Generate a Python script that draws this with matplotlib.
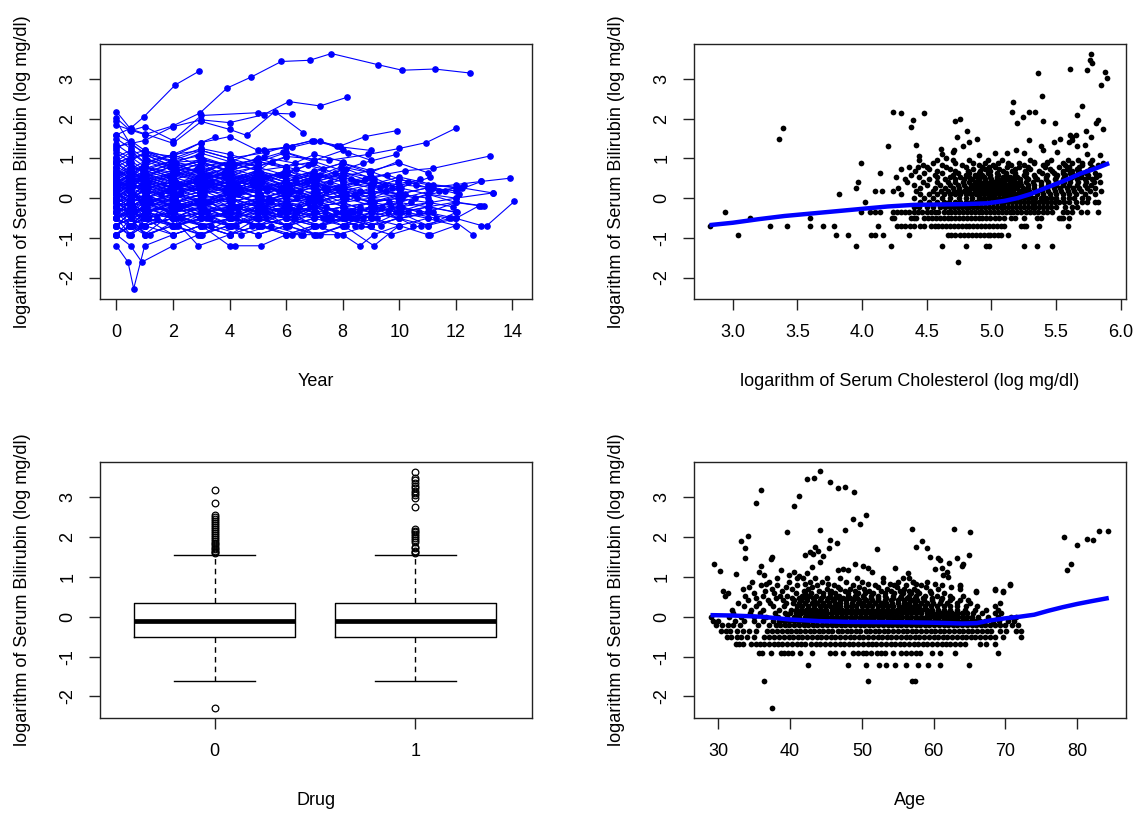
import numpy as np
import matplotlib
matplotlib.use("Agg")
import matplotlib.pyplot as plt

plt.rcParams['font.family'] = ['Liberation Sans', 'DejaVu Sans']
plt.rcParams['axes.unicode_minus'] = False

ylab = "logarithm of Serum Bilirubin (log mg/dl)"

# ---- panel 1: individual profiles (year, log bilirubin) ----
trajectories = [
    [(0, -0.11), (0.5, -0.22), (1.0, -0.36), (2.0, -0.22), (3.0, -0.11), (4.1, 0.0), (5.0, -0.22), (6.0, -0.11), (7.1, 0.1), (8.0, -0.22), (9.0, -0.36), (10.1, -0.22)],
    [(0, 0.34), (0.52, 0.18), (1.03, 0.41), (2.05, 0.26), (3.02, 0.47), (4.03, 0.34), (5.1, 0.53)],
    [(0, -0.51), (0.46, -0.69), (0.97, -0.51), (1.96, -0.36), (2.94, -0.51), (3.95, -0.69), (4.97, -0.51), (6.1, -0.69), (7.0, -0.51), (8.1, -0.36), (9.0, -0.51), (10.0, -0.36), (11.0, -0.51)],
    [(0, 0.59), (0.5, 0.79), (1.0, 0.64), (2.1, 0.88), (3.0, 0.59)],
    [(0, 0.0), (0.55, 0.1), (1.06, -0.11), (2.08, 0.0), (3.1, 0.18), (4.07, 0.1), (5.05, 0.26), (6.03, 0.18), (7.04, 0.34), (8.05, 0.26), (9.1, 0.41), (10.0, 0.34), (11.2, 0.26), (12.1, 0.1)],
    [(0, -0.92), (0.5, -0.69), (1.0, -0.92), (2.0, -0.69), (3.0, -0.51), (4.0, -0.69), (5.0, -0.92), (6.0, -0.69)],
    [(0, 0.88), (0.44, 0.64), (0.95, 0.79), (1.93, 0.53), (2.96, 0.69), (4.1, 0.92), (5.0, 0.79), (6.0, 1.03)],
    [(0, -0.22), (0.5, -0.36), (1.0, -0.22), (2.0, -0.51), (3.0, -0.36), (4.0, -0.22), (5.0, -0.36), (6.0, -0.51), (7.0, -0.36), (8.0, -0.22), (9.0, -0.11), (10.0, -0.22), (11.1, -0.11), (12.0, 0.0), (13.3, 0.13)],
    [(0, 0.18), (0.57, 0.34), (1.08, 0.26), (2.1, 0.41), (3.06, 0.18), (4.05, 0.34), (5.08, 0.1), (6.06, 0.26), (7.08, 0.0), (8.02, 0.18), (9.04, 0.1)],
    [(0, -0.69), (0.5, -0.51), (1.0, -0.69), (2.0, -0.92), (3.0, -0.69), (4.0, -0.51), (5.1, -0.69), (6.0, -0.92), (7.0, -0.69), (8.0, -0.92), (8.6, -1.2), (9.1, -0.92), (10.0, -0.69), (11.0, -0.92), (11.1, -0.92), (12.0, -0.69)],
    [(0, 0.47), (0.48, 0.26), (0.99, 0.53), (1.98, 0.34), (2.97, 0.59), (3.98, 0.47), (4.96, 0.69), (5.97, 0.53), (6.95, 0.64)],
    [(0, -0.36), (0.5, -0.11), (1.0, -0.36), (2.0, -0.22), (3.0, -0.51), (4.0, -0.36), (5.0, -0.11), (6.0, -0.22), (7.0, -0.51), (8.0, -0.36), (9.0, -0.69), (10.0, -0.51), (10.5, -0.69)],
    [(0, 1.13), (0.5, 0.92), (1.0, 1.16), (2.0, 0.88), (3.0, 1.13), (4.0, 0.92)],
    [(0, 0.1), (0.53, -0.11), (1.04, 0.1), (2.06, -0.22), (3.04, 0.0), (4.02, -0.11), (5.03, 0.1), (6.04, -0.11), (7.05, 0.0), (8.0, 0.18), (9.0, 0.0), (10.0, 0.1), (11.0, 0.26), (12.0, 0.18), (12.9, 0.42), (13.9, 0.5)],
    [(0, -0.11), (0.5, 0.0), (1.0, 0.18), (2.0, 0.1), (3.0, 0.26), (4.0, 0.41), (5.0, 0.34), (6.0, 0.59), (7.0, 0.47), (8.0, 0.64), (9.0, 0.53), (10.2, 0.69), (11.2, 0.75), (13.2, 1.06)],
    [(0, -0.51), (0.5, -0.36), (1.0, -0.51), (2.0, -0.69), (3.0, -0.36), (4.0, -0.51), (5.0, -0.36), (6.0, -0.51), (7.0, -0.69), (8.1, -0.51), (9.0, -0.69), (10.0, -0.51), (11.0, -0.36), (12.0, -0.51), (12.9, -0.69), (13.1, -0.69), (14.07, -0.08)],
    [(0, 0.26), (0.45, 0.41), (0.96, 0.18), (1.95, 0.47), (2.93, 0.26), (3.94, 0.18), (4.95, 0.34), (5.94, 0.1), (6.97, 0.26), (7.96, 0.1)],
    [(0, -0.22), (0.5, -0.11), (1.0, -0.22), (2.0, -0.11), (3.0, 0.0), (4.0, -0.22), (5.0, 0.0), (6.0, -0.11), (7.0, 0.1), (8.0, 0.0), (9.0, 0.18), (10.0, 0.1), (11.0, 0.26), (12.0, 0.34), (12.9, 0.42)],
    [(0, 0.69), (0.5, 0.53), (1.0, 0.79), (2.0, 0.64), (3.0, 0.88), (4.0, 0.69), (5.0, 0.92), (6.0, 0.79), (7.0, 1.1), (8.0, 0.92)],
    [(0, -0.92), (0.5, -1.2), (0.9, -1.61), (2.0, -1.2), (2.9, -0.92), (4.0, -0.69), (5.0, -0.92), (6.0, -0.69)],
    [(0, -1.2), (0.41, -1.61), (0.61, -2.28), (1.0, -1.2), (2.0, -0.92), (3.0, -0.69), (4.0, -0.92)],
    [(0, 0.0), (0.5, -0.22), (1.0, 0.0), (2.0, -0.11), (3.0, -0.36), (4.0, -0.22), (5.0, -0.11), (6.0, -0.36), (7.0, -0.22), (8.0, -0.36), (9.0, -0.22), (10.0, -0.11)],
    [(0, 0.41), (0.5, 0.59), (1.0, 0.47), (2.0, 0.26), (3.0, 0.41), (4.0, 0.53), (5.0, 0.41)],
    [(0, -0.36), (0.5, -0.51), (1.0, -0.69), (2.0, -0.51), (2.9, -1.2), (4.0, -0.92), (5.0, -0.69), (6.0, -0.51), (7.0, -0.69)],
    [(0, 1.84), (0.48, 1.72), (1.0, 1.6), (2.0, 1.82), (2.95, 2.14), (3.91, 2.77), (4.77, 3.05), (5.83, 3.44), (6.83, 3.47), (7.6, 3.64), (9.24, 3.36), (10.1, 3.22), (11.25, 3.25), (12.49, 3.15)],
    [(0, 1.59), (0.5, 1.76), (0.96, 2.04), (2.08, 2.85), (2.91, 3.19)],
    [(0, 1.3), (1.0, 1.45), (2.0, 1.8), (3.0, 1.97), (4.0, 1.9), (5.2, 2.1), (6.1, 2.43), (7.2, 2.32), (8.16, 2.54)],
    [(0, 2.01), (0.5, 1.7), (1.0, 1.8), (2.0, 1.45), (3.0, 2.08), (5.0, 2.15), (6.2, 2.12)],
    [(0, 2.18), (0.5, 1.74), (1.0, 1.62), (2.0, 1.38), (3.0, 1.93), (4.0, 1.73), (4.6, 1.58), (5.6, 2.18), (6.6, 1.65)],
    [(0, 0.9), (1.0, 1.1), (2.0, 0.95), (3.0, 1.2), (4.0, 1.0), (5.0, 0.8), (6.0, 1.05), (7.5, 0.95), (8.9, 1.1), (10.0, 1.25), (10.96, 1.4), (12.0, 1.76)],
    [(0, 0.6), (1.0, 0.8), (2.0, 1.1), (3.0, 1.2), (4.0, 1.0), (5.3, 1.15), (6.0, 1.3), (7.0, 1.45), (7.9, 1.31), (8.8, 1.55), (9.92, 1.7)],
    [(0, 1.04), (0.5, 1.2), (1.0, 0.9), (2.0, 1.1), (3.0, 1.4), (4.0, 1.55), (5.0, 1.2), (6.0, 1.28), (6.9, 1.45), (7.8, 1.3), (9.0, 1.2)],
    [(0, 0.53), (0.5, 0.34), (1.0, 0.59), (2.0, 0.41), (3.1, 0.26), (4.0, 0.47), (5.0, 0.26), (6.0, 0.41), (7.1, 0.18), (8.0, 0.34)],
    [(0, -0.69), (0.5, -0.92), (1.0, -0.69), (2.0, -0.51), (3.0, -0.69), (4.0, -1.2), (4.2, -1.2), (5.1, -1.2), (6.0, -0.92), (7.0, -0.69)],
    [(0, 0.79), (0.55, 0.59), (1.05, 0.92), (2.04, 0.69), (3.03, 0.47), (4.04, 0.64), (5.02, 0.41)],
    [(0, -0.11), (0.47, -0.36), (0.98, -0.22), (1.97, 0.0), (2.96, -0.22), (3.97, 0.0), (4.98, -0.22), (5.96, -0.36), (6.98, -0.11), (7.97, -0.36), (8.98, -0.11), (9.97, 0.0), (11.0, -0.11)],
    [(0, 0.26), (0.5, 0.0), (1.0, 0.34), (2.0, 0.1), (3.0, 0.34), (4.0, 0.18), (5.0, 0.47), (6.0, 0.26), (7.0, 0.41), (8.0, 0.59), (9.0, 0.34)],
    [(0, -0.36), (0.54, -0.22), (1.05, -0.51), (2.04, -0.36), (3.05, -0.22), (4.06, -0.36), (5.04, -0.51), (6.05, -0.22), (7.06, -0.36), (8.04, -0.51), (9.05, -0.36), (10.05, -0.22)],
    [(0, 0.0), (0.5, 0.26), (1.0, 0.1), (2.0, 0.34), (3.0, 0.1), (4.0, 0.26), (5.0, 0.0), (6.1, 0.18), (7.0, -0.11)],
    [(0, 1.2), (0.5, 1.0), (1.0, 1.1), (2.0, 0.79), (3.0, 0.92), (4.0, 0.69), (5.0, 0.88)],
    [(0, -0.51), (0.5, -0.22), (1.0, -0.36), (2.0, -0.11), (3.0, -0.36), (4.0, -0.22), (5.0, -0.36), (6.0, -0.11), (7.0, -0.22), (8.0, -0.11), (9.0, 0.0), (10.0, -0.11), (11.0, -0.22), (12.0, -0.36)],
    [(0, 0.41), (0.46, 0.53), (0.97, 0.26), (1.96, 0.53), (2.95, 0.34), (3.96, 0.59), (4.94, 0.41), (5.95, 0.69), (6.96, 0.53), (7.95, 0.79), (8.96, 0.64), (9.95, 0.92)],
    [(0, -0.22), (0.5, 0.0), (1.0, -0.11), (2.0, 0.1), (3.0, -0.11), (4.0, 0.1), (5.0, -0.11), (6.0, 0.1), (7.0, 0.0), (8.0, 0.26), (9.0, 0.1), (10.0, 0.26), (11.0, 0.1), (12.0, 0.0)],
    [(0, 0.64), (0.5, 0.41), (1.0, 0.59), (2.0, 0.79), (3.0, 0.53), (4.0, 0.79)],
    [(0, -0.92), (0.52, -0.51), (1.02, -0.92), (2.03, -0.69), (3.03, -0.92), (4.04, -0.51), (5.04, -0.69), (6.04, -0.51), (7.03, -0.92), (8.03, -0.69), (9.1, -1.2), (10.0, -0.69)],
    [(0, 0.1), (0.5, 0.18), (1.0, 0.0), (2.0, 0.26), (3.0, 0.0), (4.0, 0.1), (5.0, 0.26), (6.0, 0.0), (7.0, 0.18), (8.0, -0.11), (9.0, 0.18), (10.1, 0.0), (11.1, 0.18), (12.2, 0.26), (13.3, 0.13)],
    [(0, 0.34), (0.5, 0.47), (1.0, 0.69), (2.0, 0.47), (3.0, 0.64), (4.0, 0.88), (5.0, 0.69), (6.0, 0.79), (7.0, 0.59)],
    [(0, -0.36), (0.5, -0.69), (1.0, -0.51), (2.0, -0.92), (3.0, -0.69), (4.0, -0.92), (5.0, -0.69), (6.0, -0.92), (6.6, -0.92), (7.2, -0.92), (8.0, -0.69)],
    [(0, 0.92), (0.5, 1.16), (1.0, 0.88), (2.0, 1.1), (3.0, 0.79), (4.0, 0.92), (5.2, 1.2), (6.2, 1.28), (7.2, 1.45), (8.2, 1.13)],
    [(0, -0.11), (0.56, 0.1), (1.07, -0.22), (2.07, 0.0), (3.08, 0.18), (4.08, -0.11), (5.07, 0.1), (6.08, -0.22), (7.07, 0.0), (8.06, -0.22), (9.07, -0.11)],
    [(0, 0.18), (0.5, -0.11), (1.0, 0.26), (2.0, -0.11), (3.0, 0.1), (4.0, 0.34), (5.0, 0.18), (6.0, 0.41), (7.0, 0.26), (8.0, 0.47)],
    [(0, -0.69), (0.5, -0.36), (1.0, -0.51), (2.0, -0.22), (3.0, -0.51), (4.0, -0.36), (5.0, -0.69), (6.0, -0.36), (7.0, -0.51), (8.0, -0.69), (9.0, -0.36), (10.0, -0.51), (11.2, -0.36)],
    [(0, 0.59), (0.44, 0.88), (0.94, 0.69), (1.94, 0.92), (2.92, 0.79), (3.93, 0.53), (4.93, 0.79), (5.93, 0.59), (6.94, 0.88), (7.93, 0.53), (8.94, 0.69), (9.94, 0.41)],
    [(0, 0.0), (0.5, -0.22), (1.0, -0.36), (2.0, -0.11), (3.0, -0.22), (4.0, 0.0), (5.0, -0.36), (6.0, -0.11), (7.0, -0.36), (8.0, -0.22)],
    [(0, 1.35), (0.5, 1.1), (1.0, 1.2), (2.0, 0.9), (3.0, 0.95), (4.0, 0.8), (5.0, 0.92), (6.0, 0.75)],
    [(0, -0.22), (0.5, -0.51), (1.0, -0.36), (2.0, -0.69), (3.0, -0.51), (4.0, -0.36), (5.0, -0.51), (6.0, -0.69), (7.0, -0.51), (8.0, -0.36), (9.0, -0.51), (10.0, -0.69), (11.0, -0.51), (12.0, -0.69)],
    [(0, 0.47), (0.5, 0.18), (1.0, 0.41), (2.0, 0.18), (3.0, 0.47), (4.0, 0.26), (5.0, 0.53), (6.0, 0.34), (7.0, 0.64), (8.0, 0.41), (9.0, 0.26), (10.0, 0.47), (11.0, 0.34), (12.0, 0.26)],
    [(0, -0.51), (0.5, -0.92), (1.0, -0.69), (2.0, -0.51), (3.0, -0.92), (4.0, -0.69)],
    [(0, 0.26), (0.53, 0.53), (1.03, 0.34), (2.02, 0.59), (3.01, 0.41), (4.02, 0.69), (5.01, 0.47), (6.02, 0.64), (7.02, 0.34), (8.01, 0.53), (9.02, 0.34), (10.02, 0.18)],
    [(0, -0.11), (0.5, 0.0), (1.0, -0.11), (2.0, -0.22), (3.0, -0.11), (4.0, -0.22), (5.0, -0.11), (6.0, 0.0), (7.0, -0.22), (8.0, -0.11), (9.0, -0.36), (10.0, -0.22), (11.0, -0.36), (12.0, -0.11), (12.9, -0.2)],
    [(0, 0.69), (0.5, 0.47), (1.0, 0.53), (2.0, 0.34), (3.0, 0.53), (4.0, 0.34), (5.0, 0.59), (6.0, 0.41), (7.0, 0.59), (8.0, 0.41), (9.0, 0.53)],
    [(0, -0.36), (0.49, -0.11), (0.99, 0.0), (1.99, -0.22), (2.99, -0.11), (3.99, 0.1), (4.99, -0.11), (5.99, 0.0), (6.99, -0.11), (7.99, 0.1), (8.99, -0.11), (9.99, 0.0)],
    [(0, 0.1), (0.5, 0.34), (1.0, 0.18), (2.0, 0.0), (3.0, 0.26), (4.0, 0.0), (5.0, 0.18), (6.0, 0.34), (7.0, 0.1)],
    [(0, -0.92), (0.5, -0.69), (1.0, -0.36), (2.0, -0.69), (3.0, -0.51), (4.0, -0.69), (5.0, -0.51), (6.0, -0.69), (7.0, -0.92), (7.8, -0.92), (9.0, -0.69)],
    [(0, 0.34), (0.5, 0.1), (1.0, 0.0), (2.0, 0.18), (3.0, 0.34), (4.0, 0.1), (5.0, 0.34), (6.0, 0.18), (7.0, 0.41), (8.0, 0.18), (9.0, 0.34), (10.0, 0.53), (11.2, 0.34), (12.1, 0.26)],
    [(0, 0.0), (0.5, 0.18), (1.0, 0.41), (2.0, 0.18), (3.0, 0.59), (4.0, 0.34), (5.0, 0.69), (5.5, 0.92)],
    [(0, -0.22), (0.5, -0.36), (1.0, -0.11), (2.0, -0.36), (3.0, -0.69), (4.0, -0.51), (5.0, -0.22), (6.0, -0.51), (7.0, -0.22), (8.0, -0.51), (9.0, -0.22), (10.0, -0.36), (11.0, -0.22), (12.0, -0.1), (13.0, -0.2)],
    [(0, 0.53), (0.5, 0.69), (1.0, 0.47), (2.0, 0.64), (3.0, 0.88), (4.0, 0.47), (5.0, 0.59)],
    [(0, -0.51), (0.55, -0.36), (1.06, -0.22), (2.05, -0.36), (3.06, -0.22), (4.05, -0.51), (5.06, -0.22), (6.05, -0.36), (7.06, -0.69), (8.05, -0.51)],
    [(0, 0.18), (0.5, 0.41), (1.0, 0.59), (2.0, 0.26), (3.0, 0.18), (4.0, 0.53), (5.0, 0.34), (6.0, 0.1), (7.0, 0.34), (8.0, 0.0), (9.0, 0.26), (10.0, 0.1), (11.0, 0.0)],
    [(0, 0.88), (0.5, 1.04), (1.0, 0.79), (2.0, 0.59), (3.0, 0.79), (4.0, 0.59), (5.0, 0.47), (6.0, 0.69)],
    [(0, -0.69), (0.5, -0.51), (1.0, -0.92), (2.0, -0.36), (3.0, -0.69), (4.0, -0.92), (5.0, -0.51), (6.0, -0.36)],
    [(0, 1.6), (0.5, 1.4), (1.0, 1.1), (2.0, 0.8), (3.0, 0.65), (4.0, 0.9), (5.0, 0.7)],
    [(0, 1.93), (0.5, 1.35), (1.0, 1.15), (2.0, 1.05), (3.0, 1.4), (3.5, 1.55)],
    [(0, -0.36), (0.5, -0.22), (1.0, -0.69), (2.0, -0.51), (3.0, -0.36), (4.0, -0.69), (5.0, -0.36), (6.0, -0.22), (7.0, -0.36), (8.0, -0.69), (9.0, -0.36), (10.0, -0.51), (11.0, -0.69), (12.0, -0.51), (12.8, -0.2)],
    [(0, 0.1), (0.5, -0.11), (1.0, 0.26), (2.0, 0.41), (3.0, 0.18), (4.0, 0.41), (5.0, 0.1), (6.0, 0.26), (7.0, 0.47), (8.0, 0.26), (9.0, 0.53), (10.0, 0.26)],
    [(0, -0.11), (0.5, -0.22), (1.0, 0.0), (2.0, -0.36), (3.0, 0.0), (4.0, -0.36), (5.0, 0.0), (6.0, -0.22)],
    [(0, 0.41), (0.5, 0.26), (1.0, 0.53), (2.0, 0.69), (3.0, 1.0), (4.0, 0.79), (5.0, 1.0), (6.0, 0.79), (7.0, 0.92), (8.0, 0.69)],
    [(0, -0.22), (0.5, -0.69), (1.0, -0.36), (2.0, -0.51), (3.0, -0.22), (4.0, -0.51), (5.0, -0.22), (6.0, -0.69), (7.0, -0.22), (8.0, -0.51), (9.0, -0.22), (10.0, -0.51), (11.0, -0.36)],
    [(0, 0.26), (0.5, 0.1), (1.0, -0.11), (2.0, 0.1), (3.0, -0.22), (4.0, 0.1), (5.0, -0.11), (6.0, 0.1), (7.0, -0.11), (8.0, 0.1), (9.0, -0.11), (10.0, 0.1)],
    [(0, 0.64), (0.48, 0.41), (1.02, 0.18), (1.98, 0.34), (2.95, 0.1), (4.02, 0.26), (5.05, 0.0)],
    [(0, -0.69), (0.51, -0.36), (0.97, -0.22), (2.1, -0.51), (3.05, -0.36), (4.1, -0.69), (5.2, -0.36), (6.1, -0.22), (7.3, -0.51), (8.2, -0.36), (9.4, -0.22)],
    [(0, 0.96), (0.47, 0.74), (1.05, 0.53), (2.02, 0.83), (3.1, 0.59), (3.9, 0.74)],
    [(0, -0.36), (0.55, -0.51), (1.1, -0.36), (2.15, -0.11), (3.2, -0.36), (4.2, -0.22), (5.3, -0.51), (6.3, -0.36), (7.4, -0.22), (8.5, -0.51), (9.6, -0.36), (10.4, -0.11)],
    [(0, 0.1), (0.45, 0.34), (0.92, 0.53), (1.9, 0.26), (2.9, 0.47), (3.85, 0.18), (4.9, 0.41), (5.85, 0.26), (6.9, 0.53)],
    [(0, -0.11), (0.58, -0.36), (1.12, -0.51), (2.2, -0.22), (3.25, -0.51), (4.3, -0.36), (5.35, -0.11), (6.4, -0.36), (7.45, -0.51), (8.6, -0.22)],
    [(0, 0.34), (0.5, 0.59), (1.0, 0.79), (2.05, 0.47), (3.0, 0.69), (4.08, 0.41), (5.1, 0.64), (6.15, 0.34), (7.2, 0.59), (8.3, 0.47), (9.3, 0.26), (10.3, 0.41), (11.4, 0.18)],
    [(0, -0.92), (0.46, -0.69), (0.96, -0.51), (1.95, -0.69), (2.97, -0.92), (3.98, -0.69), (5.0, -0.51), (6.02, -0.69), (7.1, -0.92), (8.1, -0.69), (9.2, -0.51)],
    [(0, 0.53), (0.52, 0.74), (1.08, 0.96), (2.1, 0.74), (3.05, 0.96), (4.15, 0.83), (5.2, 1.03), (6.3, 0.88), (7.3, 0.74)],
    [(0, -0.22), (0.49, 0.0), (0.98, 0.18), (2.0, -0.11), (3.1, 0.1), (4.0, -0.22), (5.1, 0.0), (6.2, 0.18), (7.2, -0.11), (8.1, 0.1), (9.1, -0.11), (10.2, 0.1)],
    [(0, 1.5), (0.5, 1.25), (1.0, 1.0), (2.0, 0.79), (3.0, 0.92), (4.0, 0.64), (5.0, 0.79)],
    [(0, -0.51), (0.5, -0.69), (1.04, -0.36), (2.08, -0.51), (3.1, -0.69), (4.1, -0.51), (5.15, -0.69), (6.2, -0.92), (7.25, -0.69), (8.3, -0.51), (9.35, -0.69), (10.3, -0.36), (11.3, -0.51)],
    [(0, 0.18), (0.53, 0.0), (1.06, 0.26), (2.12, 0.1), (3.15, 0.34), (4.2, 0.1), (5.25, 0.26), (6.3, 0.47), (7.35, 0.26), (8.45, 0.1), (9.5, 0.34)],
    [(0, 0.79), (0.46, 0.96), (0.93, 0.74), (1.92, 0.92), (2.9, 1.06), (3.92, 0.83), (4.95, 0.96), (5.9, 1.16), (6.95, 0.92)],
    [(0, -0.36), (0.45, -0.11), (1.03, 0.1), (1.93, -0.22), (3.04, 0.0), (3.88, -0.36), (5.12, -0.11), (6.08, 0.1), (6.85, -0.22), (8.12, 0.0), (9.15, -0.22), (9.9, -0.36), (11.05, -0.11), (11.9, -0.22)],
    [(0, 0.0), (0.47, -0.22), (0.95, -0.51), (1.93, -0.36), (2.92, -0.11), (3.9, -0.36), (4.92, -0.51), (5.92, -0.22)],
    [(0, 0.41), (0.51, 0.18), (1.01, 0.41), (2.02, 0.64), (3.02, 0.41), (4.03, 0.18), (5.02, 0.47), (6.03, 0.69), (7.04, 0.41), (8.05, 0.64), (9.06, 0.41), (10.05, 0.26), (11.1, 0.53)],
    [(0, -0.11), (0.55, 0.1), (1.09, 0.34), (2.1, 0.1), (3.12, -0.11), (4.14, 0.18), (5.15, 0.41), (6.16, 0.18), (7.2, 0.0)],
    [(0, -0.69), (0.43, -0.92), (0.88, -0.69), (1.45, -0.51), (2.12, -0.69), (3.18, -0.51), (4.22, -0.69), (5.28, -0.36), (6.33, -0.51), (7.38, -0.36), (8.44, -0.69)],
    [(0, 0.26), (0.54, 0.47), (1.12, 0.26), (1.56, 0.1), (2.18, 0.34), (3.22, 0.59), (4.26, 0.34), (5.31, 0.18), (6.36, 0.41), (7.42, 0.18), (8.48, 0.41), (9.55, 0.59), (10.6, 0.34)],
    [(0, 1.0), (0.5, 0.83), (1.0, 0.64), (2.0, 0.88), (3.0, 0.64), (4.0, 0.47), (5.0, 0.69), (6.0, 0.47), (7.0, 0.69), (8.0, 0.88), (9.0, 0.69), (10.0, 0.88), (11.0, 0.64)],
    [(0, -0.22), (0.48, -0.36), (0.99, -0.69), (1.97, -0.51), (2.98, -0.22), (3.99, -0.51), (5.0, -0.36), (6.01, -0.69), (7.02, -0.36), (8.03, -0.22), (9.05, -0.51), (10.06, -0.36), (11.05, -0.22), (12.05, -0.36)],
    [(0, 0.59), (0.53, 0.34), (1.05, 0.1), (2.05, 0.26), (3.06, 0.53), (4.07, 0.34), (5.08, 0.59), (6.09, 0.26), (7.1, 0.47)],
    [(0, -0.11), (0.62, -0.36), (1.15, -0.11), (2.25, 0.1), (3.28, -0.11), (4.3, 0.1), (5.34, 0.26), (6.38, 0.0), (7.44, 0.26), (8.5, 0.0), (9.52, 0.18), (10.55, 0.0), (11.6, 0.18), (12.3, 0.34)],
    [(0, 0.18), (0.46, 0.41), (0.94, 0.64), (1.94, 0.41), (2.94, 0.18), (3.94, 0.41), (4.94, 0.64), (5.95, 0.41), (6.95, 0.64), (7.96, 0.88), (8.97, 0.64)],
    [(0, -0.51), (0.57, -0.22), (1.13, -0.51), (2.18, -0.69), (3.2, -0.36), (4.22, -0.51), (5.25, -0.22), (6.27, -0.51), (7.3, -0.69), (8.35, -0.36)],
    [(0, 0.74), (0.42, 0.53), (0.9, 0.34), (1.88, 0.53), (2.86, 0.74), (3.84, 0.53), (4.82, 0.34), (5.8, 0.59), (6.78, 0.83)],
    [(0, -0.36), (0.52, -0.22), (1.14, 0.0), (2.24, -0.22), (3.3, -0.51), (4.33, -0.22), (5.4, 0.0), (6.46, -0.22), (7.5, -0.51), (8.56, -0.36), (9.62, -0.11), (10.7, -0.36), (11.75, -0.51)],
    [(0, 0.47), (0.52, 0.69), (1.03, 0.47), (2.04, 0.26), (3.05, 0.47), (4.06, 0.74), (5.07, 0.53), (6.08, 0.26), (7.1, 0.53), (8.1, 0.74), (9.1, 0.47)],
    [(0, -0.92), (0.58, -0.69), (1.18, -0.92), (2.28, -0.51), (3.34, -0.69), (4.4, -0.92), (5.46, -0.69), (6.52, -0.92), (7.58, -0.51), (8.64, -0.69), (9.7, -0.92), (10.76, -0.69), (11.82, -0.51), (12.6, -0.92)],
    [(0, 0.0), (0.44, 0.26), (0.86, 0.47), (1.84, 0.18), (2.82, 0.41), (3.8, 0.64), (4.78, 0.41), (5.76, 0.18), (6.74, 0.41), (7.72, 0.64), (8.7, 0.88), (9.9, 1.1)],
    [(0, -0.22), (0.5, -0.11), (1.0, -0.36), (2.0, -0.51), (3.0, -0.22), (4.0, 0.0), (5.0, -0.22), (6.0, -0.51), (7.0, -0.22), (8.0, -0.11), (9.0, -0.36), (10.0, -0.11), (11.0, 0.1), (12.0, -0.11)],
    [(0, 0.34), (0.6, 0.1), (1.2, -0.11), (2.3, 0.18), (3.35, 0.41), (4.4, 0.18), (5.45, -0.11), (6.5, 0.18), (7.55, 0.41), (8.6, 0.18)],
    [(0, 1.25), (0.5, 1.45), (1.0, 1.2), (2.0, 1.0), (3.0, 1.25), (4.0, 1.1), (5.0, 0.9), (6.0, 1.15), (7.0, 0.95), (8.0, 1.2), (9.0, 0.95)],
    [(0, -0.51), (0.41, -0.36), (0.89, -0.11), (1.87, -0.36), (2.85, -0.11), (3.83, -0.36), (4.81, -0.69), (5.79, -0.36), (6.77, -0.11), (7.75, -0.36), (8.73, -0.51), (9.71, -0.22)],
    [(0, 0.1), (0.5, -0.11), (1.0, -0.36), (2.0, -0.11), (3.0, 0.1), (4.0, -0.11), (5.0, -0.36), (6.0, -0.11), (7.0, 0.1), (8.0, 0.26), (9.0, 0.0), (10.0, 0.26)],
    [(0, 0.88), (0.55, 0.64), (1.1, 0.41), (2.15, 0.64), (3.2, 0.41), (4.25, 0.26), (5.3, 0.53), (6.35, 0.74)],
    [(0, -0.69), (0.5, -0.51), (1.0, -0.22), (2.0, -0.51), (3.0, -0.36), (4.0, -0.11), (5.0, -0.36), (6.0, -0.51), (7.0, -0.22), (8.0, -0.51), (9.0, -0.69), (10.0, -0.36), (11.0, -0.69), (12.0, -0.36)],
    [(0, 0.53), (0.47, 0.26), (0.93, 0.53), (1.91, 0.79), (2.89, 0.53), (3.87, 0.26), (4.85, 0.47), (5.83, 0.26), (6.81, 0.0), (7.79, 0.26), (8.77, 0.47), (9.75, 0.26), (10.73, 0.47)],
    [(0, -0.11), (0.5, 0.18), (1.0, -0.11), (2.0, -0.36), (3.0, -0.11), (4.0, 0.18), (5.0, -0.11), (6.0, -0.36), (7.0, -0.11)],
]

# ---- panel 2: log cholesterol vs log bilirubin ----
chol_levels = [-1.61, -1.20, -0.92, -0.69, -0.51, -0.36, -0.22, -0.11, 0.00,
               0.10, 0.18, 0.26, 0.34, 0.41, 0.47, 0.53, 0.59, 0.64, 0.69, 0.74, 0.79, 0.83, 0.88, 0.96]
chol_rows = [
    [4.74],
    [3.95, 4.22, 4.62, 4.80, 4.96, 4.98, 5.25, 5.35, 5.47],
    [3.04, 3.80, 3.89, 4.07, 4.10, 4.16, 4.36, 4.66, 4.69, 4.72, 4.76, 4.79, 4.82, 4.85, 4.88, 4.91, 4.94, 4.97, 4.99, 5.02, 5.05, 5.07, 5.13],
    [2.82, 3.29, 3.42, 3.60, 3.70, 3.78, 4.12, 4.27, 4.30, 4.33, 4.37, 4.40, 4.45, 4.48, 4.53, 4.56, 4.59, 4.62, 4.65, 4.68, 4.71, 4.74, 4.77, 4.80, 4.83, 4.86, 4.89, 4.92, 4.95, 4.98, 5.01, 5.04, 5.07, 5.10, 5.23, 5.25, 5.27, 5.37, 5.59],
    [3.13, 3.60, 4.23, 4.25, 4.38, 4.40, 4.42, 4.48, 4.51, 4.54, 4.57, 4.60, 4.63, 4.66, 4.69, 4.72, 4.75, 4.78, 4.81, 4.84, 4.87, 4.90, 4.93, 4.96, 4.99, 5.03, 5.06, 5.10, 5.15, 5.18, 5.25, 5.35, 5.38, 5.52, 5.54, 5.55, 5.60],
    [2.94, 3.99, 4.06, 4.10, 4.14, 4.24, 4.27, 4.30, 4.33, 4.36, 4.40, 4.43, 4.46, 4.50, 4.53, 4.56, 4.59, 4.63, 4.66, 4.69, 4.72, 4.75, 4.78, 4.81, 4.84, 4.87, 4.90, 4.93, 4.96, 4.99, 5.02, 5.05, 5.08, 5.11, 5.14, 5.17, 5.20, 5.23, 5.27, 5.30, 5.33, 5.36, 5.40, 5.43, 5.47, 5.55, 5.58, 5.62, 5.69, 5.74, 5.82],
    [4.40, 4.44, 4.50, 4.55, 4.60, 4.64, 4.68, 4.71, 4.74, 4.77, 4.80, 4.83, 4.86, 4.89, 4.92, 4.95, 4.98, 5.01, 5.04, 5.07, 5.10, 5.13, 5.16, 5.19, 5.22, 5.25, 5.28, 5.31, 5.34, 5.37, 5.40, 5.43, 5.46, 5.50, 5.57, 5.62, 5.66],
    [4.02, 4.45, 4.52, 4.58, 4.63, 4.67, 4.72, 4.76, 4.80, 4.84, 4.88, 4.92, 4.95, 4.98, 5.01, 5.04, 5.07, 5.10, 5.13, 5.16, 5.19, 5.22, 5.25, 5.28, 5.31, 5.34, 5.37, 5.40, 5.43, 5.46, 5.49, 5.52, 5.56, 5.60, 5.65, 5.70, 5.74, 5.80, 5.82],
    [4.40, 4.48, 4.55, 4.62, 4.68, 4.75, 4.80, 4.85, 4.90, 4.94, 4.98, 5.02, 5.06, 5.10, 5.13, 5.16, 5.19, 5.22, 5.25, 5.28, 5.31, 5.34, 5.38, 5.42, 5.46, 5.50, 5.55, 5.60, 5.64, 5.70, 5.75],
    [3.82, 4.30, 4.45, 4.52, 4.58, 4.63, 4.68, 4.72, 4.76, 4.80, 4.84, 4.88, 4.91, 4.94, 4.97, 5.00, 5.03, 5.06, 5.09, 5.12, 5.15, 5.18, 5.22, 5.26, 5.30, 5.35, 5.40, 5.45, 5.50, 5.55, 5.60, 5.65, 5.72, 5.80],
    [4.10, 4.15, 4.24, 4.42, 4.55, 4.61, 4.66, 4.71, 4.75, 4.79, 4.83, 4.87, 4.90, 4.93, 4.96, 4.99, 5.02, 5.05, 5.08, 5.11, 5.14, 5.17, 5.21, 5.25, 5.29, 5.34, 5.39, 5.44, 5.49, 5.54, 5.59, 5.64, 5.69, 5.76, 5.85],
    [3.95, 4.28, 4.45, 4.56, 4.64, 4.70, 4.75, 4.80, 4.84, 4.88, 4.92, 4.95, 4.98, 5.01, 5.04, 5.07, 5.10, 5.13, 5.16, 5.20, 5.24, 5.28, 5.33, 5.38, 5.43, 5.48, 5.53, 5.58, 5.63, 5.68, 5.74, 5.80],
    [4.40, 4.50, 4.60, 4.68, 4.74, 4.79, 4.84, 4.88, 4.92, 4.95, 4.98, 5.02, 5.05, 5.08, 5.12, 5.15, 5.19, 5.23, 5.28, 5.33, 5.38, 5.44, 5.50, 5.55, 5.60, 5.66, 5.72, 5.77],
    [3.97, 4.35, 4.47, 4.58, 4.66, 4.72, 4.78, 4.83, 4.87, 4.91, 4.95, 4.99, 5.03, 5.06, 5.10, 5.14, 5.18, 5.22, 5.27, 5.32, 5.38, 5.44, 5.50, 5.56, 5.61, 5.67, 5.73, 5.79, 5.84],
    [4.33, 4.52, 4.64, 4.72, 4.79, 4.85, 4.90, 4.95, 5.00, 5.04, 5.08, 5.12, 5.17, 5.22, 5.28, 5.35, 5.42, 5.49, 5.55, 5.61, 5.66, 5.72, 5.78],
    [4.26, 4.44, 4.58, 4.68, 4.76, 4.83, 4.89, 4.94, 4.99, 5.04, 5.09, 5.14, 5.20, 5.27, 5.34, 5.42, 5.50, 5.56, 5.62, 5.69, 5.75, 5.81],
    [4.38, 4.56, 4.70, 4.80, 4.87, 4.93, 4.99, 5.05, 5.11, 5.18, 5.25, 5.33, 5.43, 5.51, 5.57, 5.63, 5.69, 5.75, 5.83],
    [4.14, 4.48, 4.62, 4.74, 4.83, 4.90, 4.97, 5.04, 5.11, 5.18, 5.27, 5.39, 5.48, 5.55, 5.61, 5.67, 5.73, 5.80],
    [4.41, 4.58, 4.72, 4.82, 4.91, 4.99, 5.09, 5.16, 5.26, 5.37, 5.47, 5.55, 5.62, 5.68, 5.74],
    [4.30, 4.52, 4.68, 4.86, 4.95, 5.06, 5.18, 5.30, 5.45, 5.58, 5.66, 5.76],
    [4.36, 4.43, 4.50, 4.65, 4.80, 4.93, 4.98, 5.03, 5.12, 5.21, 5.28, 5.41, 5.52, 5.60, 5.68, 5.78],
    [4.47, 4.62, 4.77, 4.90, 5.01, 5.15, 5.25, 5.40, 5.57, 5.70, 5.82],
    [3.99, 4.55, 4.72, 4.86, 4.95, 5.05, 5.13, 5.21, 5.33, 5.43, 5.55, 5.62, 5.70, 5.76, 5.86],
    [4.44, 4.58, 4.70, 4.83, 4.97, 5.08, 5.30, 5.46, 5.59, 5.67, 5.78],
]
chol_hi_x = [3.36, 3.39, 4.20, 4.24, 4.30, 4.38, 4.39, 4.42, 4.44, 4.48, 4.61, 4.62, 4.65, 4.70, 4.71,
             4.72, 4.73, 4.76, 4.78, 4.81, 4.83, 4.89, 4.90, 5.03, 5.12, 5.16, 5.17, 5.19, 5.20, 5.24,
             5.25, 5.29, 5.29, 5.33, 5.34, 5.36, 5.38, 5.39, 5.40, 5.40, 5.43, 5.48, 5.49, 5.51, 5.53,
             5.60, 5.61, 5.61, 5.62, 5.62, 5.65, 5.66, 5.66, 5.70, 5.72, 5.73, 5.74, 5.74, 5.76, 5.77,
             5.77, 5.78, 5.81, 5.82, 5.84, 5.85, 5.86, 5.88, 5.89]
chol_hi_y = [1.48, 1.77, 1.30, 2.18, 2.15, 1.80, 1.97, 1.34, 1.06, 2.15, 1.23, 1.12, 1.00, 1.16, 1.21,
             1.93, 1.55, 2.00, 1.31, 1.68, 1.41, 1.48, 1.08, 1.14, 1.14, 2.18, 2.43, 1.21, 1.89, 2.04,
             1.14, 2.18, 1.46, 0.92, 2.18, 3.15, 1.30, 2.56, 1.93, 1.21, 0.92, 1.42, 1.89, 1.17, 1.48,
             1.41, 3.25, 1.59, 1.46, 1.54, 1.58, 2.10, 1.30, 2.31, 1.33, 1.69, 3.22, 1.12, 3.47, 3.64,
             1.54, 3.39, 1.89, 1.96, 1.08, 2.85, 1.73, 3.18, 3.03]
chol_fit_x = [2.82, 3.0, 3.2, 3.4, 3.6, 3.8, 4.0, 4.2, 4.4, 4.6, 4.8, 4.97, 5.1, 5.2, 5.3, 5.43, 5.55, 5.69, 5.8, 5.91]
chol_fit_y = [-0.68, -0.62, -0.53, -0.45, -0.39, -0.33, -0.27, -0.21, -0.17, -0.16, -0.15, -0.13, -0.07, 0.0, 0.1, 0.27, 0.42, 0.62, 0.74, 0.88]

# ---- panel 3: boxplot by drug (five-number summaries and outliers) ----
drug_labels = ["0", "1"]
drug_q1 = [-0.51, -0.51]
drug_med = [-0.105, -0.105]
drug_q3 = [0.34, 0.34]
drug_whislo = [-1.61, -1.61]
drug_whishi = [1.55, 1.55]
drug0_out = [3.17, 2.84, 2.55, 2.50, 2.46, 2.40, 2.35, 2.30, 2.25, 2.20, 2.15, 2.10, 2.05, 2.00,
             1.95, 1.90, 1.86, 1.82, 1.77, 1.72, 1.69, 1.66, 1.63, 1.61, -2.30]
drug1_out = [3.64, 3.47, 3.42, 3.35, 3.28, 3.22, 3.16, 3.10, 3.04, 2.98, 2.75, 2.20, 2.16, 2.12,
             2.07, 2.02, 1.97, 1.92, 1.87, 1.76, 1.72, 1.66, 1.62, 1.59]

# ---- panel 4: age vs log bilirubin ----
age_levels = [-2.30, -1.61, -1.20, -0.92, -0.69, -0.51, -0.36, -0.22, -0.11, 0.00,
              0.10, 0.18, 0.26, 0.34, 0.41, 0.47, 0.53, 0.59, 0.64, 0.69, 0.74, 0.79, 0.83, 0.88, 0.96]
age_rows = [
    [37.5],
    [36.3, 50.8, 57.0, 57.4],
    [42.5, 48.0, 50.5, 52.4, 53.4, 54.6, 56.2, 57.8, 59.2, 60.9, 64.9],
    [35.7, 36.1, 37.3, 38.7, 39.2, 39.7, 40.3, 41.4, 43.0, 45.5, 46.2, 47.4, 48.8, 49.4, 50.1, 50.6, 51.3, 52.1, 52.6, 53.2, 54.4, 55.5, 56.2, 56.9, 57.6, 58.1, 59.7, 60.9, 63.0, 68.9],
    [32.4, 32.9, 33.4, 34.6, 35.2, 35.8, 36.4, 37.0, 37.7, 38.3, 38.9, 39.6, 40.2, 40.9, 41.5, 42.1, 42.9, 43.6, 44.2, 44.9, 45.6, 46.3, 46.9, 47.5, 48.2, 48.8, 49.5, 50.1, 50.8, 51.4, 52.0, 52.7, 53.3, 54.0, 54.6, 55.3, 55.9, 56.5, 57.2, 57.8, 58.5, 59.1, 59.8, 60.4, 61.1, 61.7, 62.3, 63.0, 63.6, 64.3, 66.4, 67.3, 68.5],
    [31.2, 31.8, 32.6, 33.2, 34.0, 35.0, 36.3, 37.1, 37.8, 38.5, 39.1, 39.8, 40.4, 41.1, 41.7, 42.4, 43.0, 43.7, 44.3, 45.0, 45.7, 46.3, 47.0, 47.6, 48.3, 48.9, 49.6, 50.2, 50.9, 51.5, 52.2, 52.8, 53.5, 54.1, 54.8, 55.4, 56.1, 56.7, 57.4, 58.0, 58.7, 59.3, 60.0, 60.6, 61.3, 61.9, 62.6, 63.2, 63.9, 64.5, 65.2, 65.8, 66.5, 67.1, 67.8, 68.5, 69.7, 72.2],
    [30.4, 31.0, 31.6, 32.6, 33.4, 34.3, 35.2, 36.8, 37.5, 38.2, 38.9, 39.5, 40.1, 40.8, 41.4, 42.0, 42.7, 43.3, 44.0, 44.6, 45.3, 45.9, 46.6, 47.2, 47.9, 48.5, 49.2, 49.8, 50.5, 51.1, 51.8, 52.4, 53.1, 53.7, 54.4, 55.0, 55.7, 56.3, 57.0, 57.6, 58.3, 58.9, 59.6, 60.2, 60.9, 61.5, 62.2, 62.8, 63.5, 64.1, 64.8, 65.4, 66.1, 66.7, 67.4, 68.0, 69.3, 70.1, 71.5, 72.1],
    [29.6, 30.5, 31.3, 32.1, 33.0, 35.5, 37.0, 38.0, 38.6, 39.3, 39.9, 40.6, 41.2, 41.9, 42.5, 43.2, 43.8, 44.5, 45.1, 45.8, 46.4, 47.1, 47.7, 48.4, 49.0, 49.7, 50.3, 51.0, 51.6, 52.3, 52.9, 53.6, 54.2, 54.9, 55.5, 56.2, 56.8, 57.5, 58.1, 58.8, 59.4, 60.1, 60.7, 61.4, 62.0, 62.7, 63.3, 64.0, 64.6, 65.3, 65.9, 66.6, 67.2, 67.9, 68.5, 69.2, 70.0, 70.9, 71.7],
    [29.3, 29.9, 32.3, 33.6, 35.0, 36.2, 37.6, 38.4, 39.1, 39.8, 40.5, 41.1, 41.8, 42.4, 43.1, 43.7, 44.4, 45.0, 45.7, 46.3, 47.0, 47.6, 48.3, 48.9, 49.6, 50.2, 50.9, 51.5, 52.2, 52.8, 53.5, 54.1, 54.8, 55.4, 56.1, 56.7, 57.4, 58.0, 58.7, 59.3, 60.0, 60.6, 61.3, 61.9, 62.6, 63.2, 63.9, 64.5, 65.2, 65.8, 66.5, 67.1, 68.3, 69.1, 70.4, 71.2],
    [28.9, 31.5, 33.1, 34.9, 36.6, 38.3, 39.5, 40.6, 41.3, 42.0, 42.6, 43.3, 43.9, 44.6, 45.2, 45.9, 46.5, 47.2, 47.8, 48.5, 49.1, 49.8, 50.4, 51.1, 51.7, 52.4, 53.0, 53.7, 54.3, 55.0, 55.6, 56.3, 56.9, 57.6, 58.2, 58.9, 59.5, 60.2, 60.8, 61.5, 62.1, 62.8, 63.4, 64.1, 64.7, 65.4, 66.2, 67.5, 69.0, 70.8, 71.5],
    [32.0, 34.4, 35.8, 37.9, 39.3, 40.0, 40.8, 41.5, 42.2, 42.9, 43.6, 44.3, 45.0, 45.7, 46.4, 47.1, 47.8, 48.5, 49.2, 49.9, 50.6, 51.3, 52.0, 52.7, 53.4, 54.1, 54.8, 55.5, 56.2, 56.9, 57.6, 58.3, 59.0, 59.7, 60.4, 61.1, 61.8, 62.5, 63.2, 63.9, 64.6, 65.5, 66.8, 68.6, 69.4],
    [31.9, 34.6, 36.2, 38.5, 40.1, 40.8, 41.5, 42.2, 42.9, 43.6, 44.3, 45.0, 45.8, 46.5, 47.2, 47.9, 48.6, 49.3, 50.0, 50.7, 51.4, 52.1, 52.8, 53.5, 54.2, 54.9, 55.6, 56.3, 57.0, 57.7, 58.4, 59.1, 59.8, 60.6, 61.4, 62.3, 63.3, 64.4, 65.7, 67.3, 69.0],
    [33.6, 35.3, 37.6, 39.2, 40.9, 41.7, 42.5, 43.3, 44.1, 44.8, 45.6, 46.3, 47.0, 47.8, 48.5, 49.2, 50.0, 50.7, 51.4, 52.2, 52.9, 53.6, 54.4, 55.1, 55.8, 56.6, 57.3, 58.0, 58.8, 59.6, 60.5, 61.4, 62.3, 63.2, 64.5, 66.0, 68.6],
    [32.8, 35.6, 37.2, 39.4, 40.4, 41.3, 42.1, 43.0, 43.8, 44.6, 45.4, 46.2, 47.0, 47.8, 48.6, 49.4, 50.2, 51.0, 51.8, 52.6, 53.4, 54.2, 55.0, 55.8, 56.6, 57.4, 58.2, 59.0, 59.9, 60.9, 61.9, 63.3, 65.1, 69.3],
    [34.1, 36.9, 39.0, 40.6, 41.5, 42.4, 43.3, 44.2, 45.1, 46.0, 46.9, 47.8, 48.7, 49.6, 50.5, 51.4, 52.3, 53.2, 54.1, 55.0, 55.9, 56.8, 57.7, 58.7, 59.8, 61.0, 62.3, 63.6, 64.8],
    [35.3, 38.0, 40.2, 41.3, 42.2, 43.2, 44.3, 45.3, 46.3, 47.3, 48.3, 49.3, 50.3, 51.3, 52.3, 53.3, 54.3, 55.3, 56.3, 57.4, 58.5, 59.8, 61.2, 62.6],
    [30.9, 33.7, 36.2, 38.6, 39.5, 41.6, 42.6, 43.6, 44.6, 45.6, 46.8, 48.0, 49.1, 50.2, 51.2, 52.2, 53.2, 54.3, 55.4, 56.5, 57.6, 58.8, 60.5, 62.3, 64.1],
    [31.4, 34.9, 37.7, 40.8, 42.0, 42.9, 44.6, 45.5, 46.3, 48.0, 49.5, 50.4, 51.5, 53.2, 54.5, 55.7, 56.8, 58.0, 59.6, 61.5],
    [30.7, 36.5, 38.9, 41.9, 44.0, 45.7, 47.6, 49.0, 51.0, 52.6, 54.0, 55.3, 56.6, 57.7, 59.5, 65.9, 69.7],
    [33.4, 37.4, 40.3, 42.5, 45.2, 47.0, 48.4, 50.3, 53.5, 55.9, 57.3, 60.6, 63.7, 68.5],
    [34.3, 39.4, 43.1, 46.7, 49.6, 52.2, 54.9, 58.9, 62.4],
    [35.9, 38.2, 41.0, 43.7, 46.1, 48.7, 51.8, 54.5, 56.2, 58.3, 61.1, 63.7, 70.7],
    [36.6, 42.0, 45.3, 50.9, 53.9, 57.6, 60.2],
    [34.7, 37.0, 39.8, 42.7, 44.5, 47.8, 50.0, 52.9, 55.0, 57.1, 59.1],
    [38.1, 40.9, 43.5, 46.9, 49.3, 56.6],
]
age_hi_x = [44.2, 42.4, 43.3, 45.5, 46.6, 47.6, 48.9, 36.0, 35.2, 41.2, 40.5, 50.6, 48.7, 49.7, 44.1,
            47.6, 39.5, 34.1, 33.1, 33.7, 33.7, 29.4, 30.2, 32.5, 37.3, 37.5, 36.0, 35.6, 36.4, 45.5,
            46.5, 45.4, 42.0, 42.7, 43.2, 43.5, 43.9, 44.6, 43.0, 52.1, 49.0, 50.2, 50.9, 48.0, 51.4,
            47.3, 38.7, 39.8, 40.5, 41.2, 42.3, 44.2, 45.1, 46.6, 41.8,
            57.0, 62.9, 65.1, 58.4, 57.6, 59.1, 59.5, 60.6, 60.9, 60.2, 61.1, 61.8, 62.2, 63.2, 63.9,
            64.1, 64.9, 61.3, 62.0, 54.6, 52.9, 56.4, 57.1, 55.7, 63.7, 65.9, 68.5, 69.7, 70.7,
            78.1, 78.6, 79.2, 80.0, 81.3, 82.2, 83.0, 84.3]
age_hi_y = [3.66, 3.45, 3.48, 3.37, 3.22, 3.26, 3.14, 3.18, 2.84, 3.03, 2.78, 2.54, 2.44, 2.33, 2.17,
            2.17, 2.12, 2.03, 1.89, 1.72, 1.47, 1.32, 1.15, 1.06, 1.44, 1.49, 1.27, 1.13, 1.05, 1.93,
            1.86, 1.72, 1.55, 1.62, 1.58, 1.75, 1.66, 1.52, 1.25, 1.70, 1.31, 1.27, 1.22, 1.16, 1.12,
            1.20, 1.18, 1.04, 1.12, 1.02, 1.10, 1.36, 0.98, 1.16, 0.96,
            2.19, 2.19, 2.12, 1.89, 1.76, 1.72, 1.51, 1.47, 1.41, 1.19, 1.22, 1.13, 1.34, 1.47, 1.27,
            1.32, 1.55, 1.05, 1.00, 1.22, 0.96, 1.09, 0.88, 0.96, 0.77, 0.62, 0.67, 0.62, 0.81,
            2.00, 1.17, 1.32, 1.81, 1.96, 1.92, 2.14, 2.14]
age_fit_x = [28.9, 32, 36, 40, 44, 48, 52, 56, 60, 64, 66, 68, 70, 72, 74, 76, 78, 80, 82, 84.4]
age_fit_y = [0.04, 0.03, 0.0, -0.07, -0.11, -0.13, -0.135, -0.14, -0.15, -0.17, -0.16, -0.09, -0.04, 0.0, 0.05, 0.15, 0.24, 0.32, 0.39, 0.47]


def style(ax, xlabel):
    for s in ax.spines.values():
        s.set_linewidth(1.0)
        s.set_color("#222222")
    ax.tick_params(direction="out", length=8, width=1, labelsize=13, color="#222222")
    ax.tick_params(axis="x", pad=10)
    ax.tick_params(axis="y", pad=9)
    ax.set_ylim(-2.54, 3.88)
    ax.set_yticks([-2, -1, 0, 1, 2, 3])
    ax.set_yticklabels(["-2", "-1", "0", "1", "2", "3"], rotation=90, va="center")
    ax.set_ylabel(ylab, fontsize=13)
    ax.yaxis.set_label_coords(-0.179, 0.5)
    ax.yaxis.label.set_va("center")
    ax.set_xlabel(xlabel, fontsize=13)
    ax.xaxis.set_label_coords(0.5, -0.322)
    ax.xaxis.label.set_va("center")


fig = plt.figure(figsize=(11.38, 8.13), dpi=100)
ax1 = fig.add_axes([100 / 1138, 1 - 299 / 813, 432 / 1138, 255 / 813])
ax2 = fig.add_axes([694 / 1138, 1 - 299 / 813, 432 / 1138, 255 / 813])
ax3 = fig.add_axes([100 / 1138, 1 - 718 / 813, 432 / 1138, 256 / 813])
ax4 = fig.add_axes([694 / 1138, 1 - 718 / 813, 432 / 1138, 256 / 813])

# spaghetti plot
for tr in trajectories:
    yrs = [p[0] for p in tr]
    val = [p[1] for p in tr]
    ax1.plot(yrs, val, "-o", color="blue", lw=0.8, ms=3.8)
ax1.set_xlim(-0.58, 14.69)
ax1.set_xticks([0, 2, 4, 6, 8, 10, 12, 14])
style(ax1, "Year")

# cholesterol scatter
cx, cy = [], []
for lvl, xs in zip(chol_levels, chol_rows):
    cx += xs
    cy += [lvl] * len(xs)
cx += chol_hi_x
cy += chol_hi_y
ax2.scatter(cx, cy, s=17, color="black", linewidths=0)
ax2.plot(chol_fit_x, chol_fit_y, color="blue", lw=3.2, solid_capstyle="butt")
ax2.set_xlim(2.70, 6.04)
ax2.set_xticks([3.0, 3.5, 4.0, 4.5, 5.0, 5.5, 6.0])
ax2.set_xticklabels(["3.0", "3.5", "4.0", "4.5", "5.0", "5.5", "6.0"])
style(ax2, "logarithm of Serum Cholesterol (log mg/dl)")

# boxplot by drug
stats = []
for i, fl in enumerate([drug0_out, drug1_out]):
    stats.append(dict(med=drug_med[i], q1=drug_q1[i], q3=drug_q3[i],
                      whislo=drug_whislo[i], whishi=drug_whishi[i], fliers=fl))
ax3.bxp(stats, positions=[1, 2], widths=0.8, capwidths=[0.4, 0.4],
        boxprops=dict(color="black", lw=1.0),
        medianprops=dict(color="black", lw=3.4, solid_capstyle="butt"),
        whiskerprops=dict(color="black", lw=1.0, linestyle=(0, (4, 3))),
        capprops=dict(color="black", lw=1.0),
        flierprops=dict(marker="o", markerfacecolor="none", markeredgecolor="black", markersize=4.8, markeredgewidth=0.9))
ax3.set_xlim(0.429, 2.581)
ax3.set_xticks([1, 2])
ax3.set_xticklabels(drug_labels)
style(ax3, "Drug")

# age scatter
ax_, ay_ = [], []
for lvl, xs in zip(age_levels, age_rows):
    ax_ += xs
    ay_ += [lvl] * len(xs)
ax_ += age_hi_x
ay_ += age_hi_y
ax4.scatter(ax_, ay_, s=17, color="black", linewidths=0)
ax4.plot(age_fit_x, age_fit_y, color="blue", lw=3.2, solid_capstyle="butt")
ax4.set_xlim(26.6, 86.8)
ax4.set_xticks([30, 40, 50, 60, 70, 80])
style(ax4, "Age")

fig.savefig("out.png", dpi=100)
